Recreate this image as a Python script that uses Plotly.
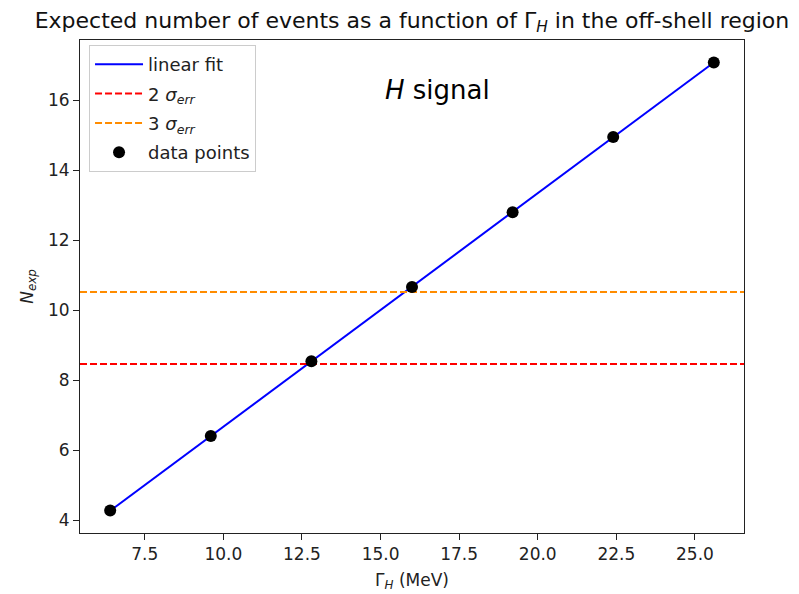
import numpy as np
import plotly.graph_objects as go

gamma_h = [6.4, 9.6, 12.8, 16.0, 19.2, 22.4, 25.6]
n_exp = [4.28, 6.41, 8.55, 10.67, 12.81, 14.96, 17.09]
two_sigma = 8.47
three_sigma = 10.53
x_ticks = [7.5, 10.0, 12.5, 15.0, 17.5, 20.0, 22.5, 25.0]
y_ticks = [4, 6, 8, 10, 12, 14, 16]

x = np.array(gamma_h)
y = np.array(n_exp)
slope, intercept = np.polyfit(x, y, 1)
xfit = np.array([x.min(), x.max()])
yfit = slope * xfit + intercept

xpad = 0.05 * (x.max() - x.min())
ypad = 0.05 * (y.max() - y.min())
xr = [x.min() - xpad, x.max() + xpad]
yr = [y.min() - ypad, y.max() + ypad]

FONT = "DejaVu Sans"

fig = go.Figure()
fig.add_trace(go.Scatter(x=xfit, y=yfit, mode="lines", name="linear fit", legendgroup="a",
                         line=dict(color="blue", width=2)))
fig.add_trace(go.Scatter(x=xr, y=[two_sigma, two_sigma], mode="lines", legendgroup="b",
                         name="2 <i>σ<sub>err</sub></i>",
                         line=dict(color="red", width=2, dash="7px,3px")))
fig.add_trace(go.Scatter(x=xr, y=[three_sigma, three_sigma], mode="lines", legendgroup="c",
                         name="3 <i>σ<sub>err</sub></i>",
                         line=dict(color="darkorange", width=2, dash="7px,3px")))
fig.add_trace(go.Scatter(x=x, y=y, mode="markers", name="data points", legendgroup="d",
                         marker=dict(color="black", size=12)))

axis_common = dict(showline=True, mirror=True, linecolor="#222", linewidth=1,
                   ticks="outside", ticklen=6, tickcolor="#222", showgrid=False,
                   zeroline=False, tickfont=dict(family=FONT, size=17, color="#222"))

fig.update_layout(
    width=799, height=594,
    margin=dict(l=72, r=63, t=32, b=69),
    paper_bgcolor="white", plot_bgcolor="white",
    font=dict(family=FONT, size=17, color="black"),
    title=dict(text="Expected number of events as a function of Γ<sub><i>H</i></sub> in the off-shell region",
               x=0.5056, xanchor="center", y=0.98, yanchor="middle",
               font=dict(family=FONT, size=22, color="#111")),
    xaxis=dict(range=xr, tickvals=x_ticks, ticktext=[f"{v:.1f}" for v in x_ticks],
               title=dict(text="Γ<sub><i>H</i></sub> (MeV)", font=dict(family=FONT, size=17, color="#222"), standoff=10),
               **axis_common),
    yaxis=dict(range=yr, tickvals=y_ticks, ticktext=[str(v) for v in y_ticks],
               title=dict(text="<i>N<sub>exp</sub></i>", font=dict(family=FONT, size=17, color="#222"), standoff=10),
               **axis_common),
    legend=dict(x=0.0136, y=0.99, xanchor="left", yanchor="top",
                bgcolor="rgba(255,255,255,0.8)", bordercolor="#cccccc", borderwidth=1,
                font=dict(family=FONT, size=18, color="#222"), tracegroupgap=3, itemwidth=48),
    showlegend=True,
)
fig.add_annotation(text="<i>H</i> signal", xref="paper", yref="paper",
                   x=0.5377, y=0.8986, xanchor="center", yanchor="middle", showarrow=False,
                   font=dict(family=FONT, size=26, color="black"))

fig.write_html("out.html")
